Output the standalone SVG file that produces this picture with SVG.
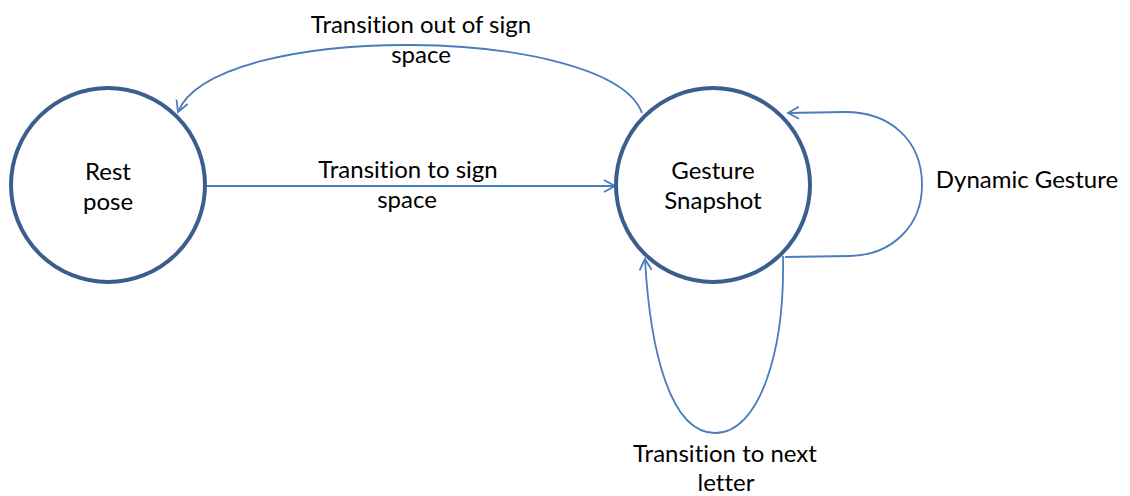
<svg xmlns="http://www.w3.org/2000/svg" width="1130" height="496" viewBox="0 0 1130 496">
  <style>
    .state { fill: #ffffff; stroke: #3A5F8E; stroke-width: 4; }
    .edge { fill: none; stroke: #4A7EBB; stroke-width: 1.8; }
    .label { font-family: Lato, "Liberation Sans", sans-serif; font-size: 24px; fill: #000000; text-anchor: middle; font-variant-ligatures: none; font-feature-settings: "liga" 0; }
  </style>
  <defs>
    <marker id="open-arrow" markerUnits="userSpaceOnUse" markerWidth="16" markerHeight="16" refX="12" refY="7" orient="auto">
      <path d="M1,1 L12,7 L1,13" fill="none" stroke="#4A7EBB" stroke-width="1.8"/>
    </marker>
  </defs>

  <rect width="1130" height="496" fill="#ffffff"/>

  <g id="connectors">
    <!-- Gesture Snapshot back to Rest pose -->
    <path class="edge" d="M642,113 C610,25 215,20 178,112" marker-end="url(#open-arrow)"/>
    <!-- Rest pose to Gesture Snapshot -->
    <path class="edge" d="M207,186 L615,186" marker-end="url(#open-arrow)"/>
    <!-- Dynamic gesture self loop -->
    <path class="edge" d="M785,257 L850,256 C892,255 922,226 922,185 C922,140 890,112 845,112 L788,113" marker-end="url(#open-arrow)"/>
    <!-- Next letter self loop -->
    <path class="edge" d="M783,256 C785,350 760,433 715,433 C670,433 650,350 645,259" marker-end="url(#open-arrow)"/>
  </g>

  <g id="edge-labels">
    <text class="label" x="421" y="33">Transition out of sign</text>
    <text class="label" x="421" y="63">space</text>
    <text class="label" x="408" y="178">Transition to sign</text>
    <text class="label" x="407" y="208">space</text>
    <text class="label" x="1027" y="188">Dynamic Gesture</text>
    <text class="label" x="725" y="462">Transition to next</text>
    <text class="label" x="726" y="491">letter</text>
  </g>

  <g id="rest-pose">
    <circle class="state" cx="108" cy="185" r="97"/>
    <text class="label" x="108" y="180">Rest</text>
    <text class="label" x="108" y="210">pose</text>
  </g>

  <g id="gesture-snapshot">
    <circle class="state" cx="713" cy="185" r="97"/>
    <text class="label" x="713" y="179">Gesture</text>
    <text class="label" x="713" y="209">Snapshot</text>
  </g>
</svg>
